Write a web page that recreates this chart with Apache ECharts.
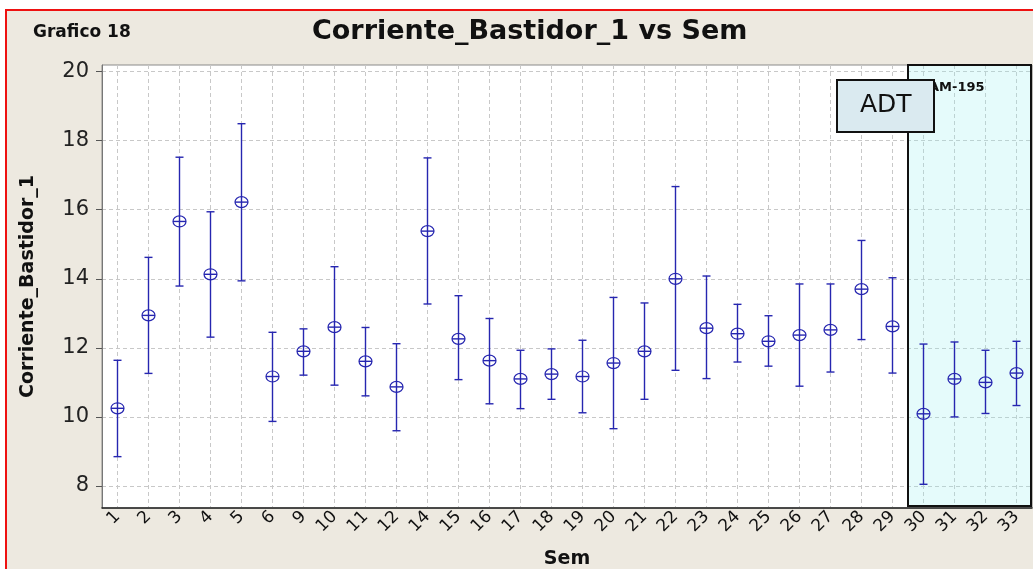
<!DOCTYPE html>
<html>
<head>
<meta charset="utf-8">
<script src="https://cdn.jsdelivr.net/npm/echarts@6/dist/echarts.min.js"></script>
<style>
  html, body { margin: 0; padding: 0; background: #ffffff; }
  #frame { position: absolute; left: 5px; top: 9px; width: 1040px; height: 580px;
           border-left: 2px solid #ee1111; border-top: 2px solid #ee1111; background: #EDE9E0; }
  #chart { position: absolute; left: 0; top: 0; width: 1033px; height: 569px; }
</style>
</head>
<body>
<div id="frame"></div>
<div id="chart"></div>
<script>
// ---- data ----
const categories = ['1','2','3','4','5','6','9','10','11','12','14','15','16','17','18','19','20','21','22','23','24','25','26','27','28','29','30','31','32','33'];
const means = [10.25,12.94,15.66,14.13,16.22,11.17,11.90,12.60,11.61,10.87,15.38,12.26,11.63,11.10,11.24,11.17,11.56,11.90,14.00,12.57,12.41,12.19,12.37,12.52,13.70,12.62,10.09,11.10,11.00,11.27];
const lows  = [8.85,11.26,13.79,12.31,13.94,9.87,11.21,10.92,10.61,9.60,13.27,11.08,10.38,10.24,10.51,10.12,9.66,10.51,11.35,11.11,11.59,11.47,10.89,11.30,12.24,11.27,8.05,10.00,10.10,10.33];
const highs = [11.64,14.62,17.52,15.94,18.49,12.45,12.55,14.35,12.59,12.12,17.50,13.51,12.85,11.93,11.97,12.22,13.46,13.30,16.67,14.08,13.26,12.93,13.85,13.85,15.11,14.03,12.11,12.17,11.93,12.19];
const yTicks = [8,10,12,14,16,18,20];
const regionStart = '30';
const regionEnd = '33';

const barColor = '#2626b0';
const chart = echarts.init(document.getElementById('chart'), null, {renderer: 'canvas'});

const barData = categories.map((c, i) => [i, means[i], lows[i], highs[i]]);

function renderBar(params, api) {
  const x = api.value(0);
  const c = api.coord([x, api.value(1)]);
  const lo = api.coord([x, api.value(2)]);
  const hi = api.coord([x, api.value(3)]);
  const cap = 4;
  const st = {stroke: barColor, lineWidth: 1.4, fill: null};
  return {
    type: 'group',
    children: [
      {type: 'line', shape: {x1: c[0], y1: hi[1], x2: c[0], y2: lo[1]}, style: st},
      {type: 'line', shape: {x1: c[0]-cap, y1: hi[1], x2: c[0]+cap, y2: hi[1]}, style: st},
      {type: 'line', shape: {x1: c[0]-cap, y1: lo[1], x2: c[0]+cap, y2: lo[1]}, style: st},
      {type: 'ellipse', shape: {cx: c[0], cy: c[1], rx: 6.5, ry: 5.5}, style: {stroke: barColor, lineWidth: 1.2, fill: 'rgba(0,0,0,0)'}},
      {type: 'line', shape: {x1: c[0]-6.5, y1: c[1], x2: c[0]+6.5, y2: c[1]}, style: st}
    ]
  };
}

function renderRegion(params, api) {
  const a = api.coord([api.value(0), 10])[0];
  const b = api.coord([api.value(1), 10])[0];
  const w = api.size([1, 0])[0];
  const cs = params.coordSys;
  return {
    type: 'rect',
    shape: {x: a - w/2, y: cs.y, width: (b - a) + w - 1, height: cs.height - 2},
    style: {fill: 'rgba(150,240,240,0.25)', stroke: '#111', lineWidth: 2}
  };
}

const option = {
  animation: false,
  backgroundColor: 'transparent',
  textStyle: {fontFamily: 'DejaVu Sans'},
  grid: {left: 102, right: 1, top: 65, bottom: 61, outerBoundsMode: 'none', containLabel: false,
         show: true, backgroundColor: '#ffffff', borderColor: '#8a8a8a', borderWidth: 1},
  xAxis: {
    type: 'category', data: categories, boundaryGap: true,
    name: 'Sem', nameLocation: 'middle', nameGap: 42,
    nameTextStyle: {fontFamily: 'DejaVu Sans', fontWeight: 'bold', fontSize: 19, color: '#111'},
    axisLine: {lineStyle: {color: '#222', width: 1.5}},
    axisTick: {alignWithLabel: true, length: 6, lineStyle: {color: '#222'}},
    axisLabel: {rotate: 45, fontSize: 17, color: '#111', margin: 6, interval: 0},
    splitLine: {show: true, alignWithLabel: true, lineStyle: {color: '#c8c8c8', type: [4, 3], width: 1}}
  },
  yAxis: {
    type: 'value', min: 7.363, max: 20.19,
    name: 'Corriente_Bastidor_1', nameLocation: 'middle', nameGap: 64,
    nameTextStyle: {fontFamily: 'DejaVu Sans', fontWeight: 'bold', fontSize: 19, color: '#111'},
    axisLine: {show: true, lineStyle: {color: '#777', width: 1}},
    axisTick: {show: true, length: 6, customValues: yTicks, lineStyle: {color: '#555'}},
    axisLabel: {customValues: yTicks, fontSize: 21, color: '#222', margin: 13},
    splitLine: {show: true, lineStyle: {color: '#c8c8c8', type: [4, 3], width: 1}}
  },
  series: [
    {type: 'custom', name: 'region', renderItem: renderRegion, data: [[categories.indexOf(regionStart), categories.indexOf(regionEnd)]], z: 1, silent: true},
    {type: 'custom', name: 'Corriente_Bastidor_1', renderItem: renderBar, data: barData, z: 3}
  ],
  graphic: [
    {type: 'text', left: 33, top: 24, style: {text: 'Grafico 18', font: 'bold 17px "DejaVu Sans"', fill: '#111'}},
    {type: 'text', left: 312, top: 18, style: {text: 'Corriente_Bastidor_1 vs Sem', font: 'bold 27px "DejaVu Sans"', fill: '#111'}},
    {type: 'text', left: 929, top: 81, z: 10, style: {text: 'AM-195', font: 'bold 13px "DejaVu Sans"', fill: '#111'}},
    {type: 'rect', left: 836, top: 79, z: 11, shape: {width: 97, height: 52}, style: {fill: '#daeaf0', stroke: '#111', lineWidth: 2}},
    {type: 'text', left: 860, top: 93, z: 12, style: {text: 'ADT', font: '25px "DejaVu Sans"', fill: '#111'}}
  ]
};
chart.setOption(option);
</script>
</body>
</html>
